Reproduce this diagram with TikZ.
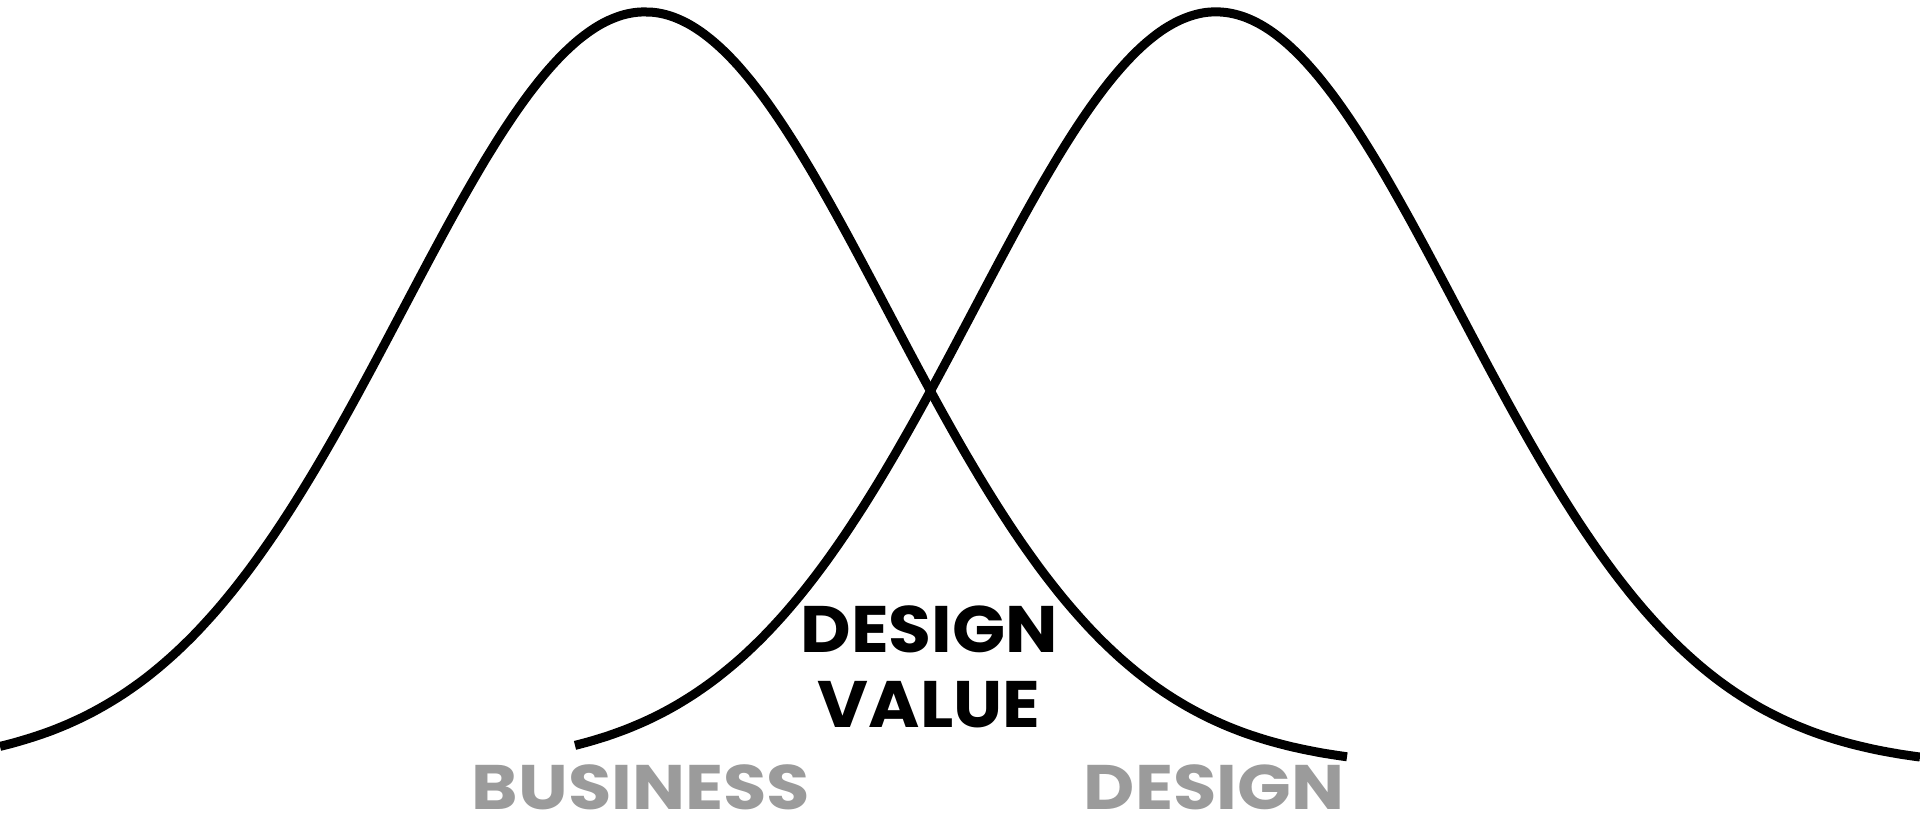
\documentclass[tikz,border=0pt]{standalone}
\usepackage{fontspec}
\setmainfont{Poppins}[BoldFont={* Bold}]
\newfontfamily\blackfont{Poppins Bold}[FakeStretch=1.06]
\newfontfamily\grayfont{Poppins Bold}[FakeStretch=1.12]
\definecolor{labelgray}{HTML}{9B9B9B}
\tikzset{
  bell/.style={line width=0.09cm, black, line join=round},
  bigtxt/.style={font=\fontsize{18.7}{21.34}\selectfont\blackfont, align=center, inner sep=0pt, anchor=base},
  graytxt/.style={font=\fontsize{17.9}{20}\selectfont\grayfont, text=labelgray, inner sep=0pt, anchor=base, text depth=0pt}
}
\begin{document}
\begin{tikzpicture}[x=0.01cm, y=-0.01cm]
\useasboundingbox (0,0) rectangle (1920,816);
\draw[bell] plot[domain=0:1347, samples=220, smooth] (\x, {768 - 756*exp(-0.5*((\x-645)/242)^2)});
\draw[bell] plot[domain=575:1920, samples=220, smooth] (\x, {768 - 756*exp(-0.5*((\x-1216)/242)^2)});
\node[bigtxt] (dv) at (929,728) {DESIGN\\VALUE};
\node[graytxt] (bus) at (641,810) {BUSINESS};
\node[graytxt] (des) at (1214,810) {DESIGN};
\end{tikzpicture}
\end{document}
